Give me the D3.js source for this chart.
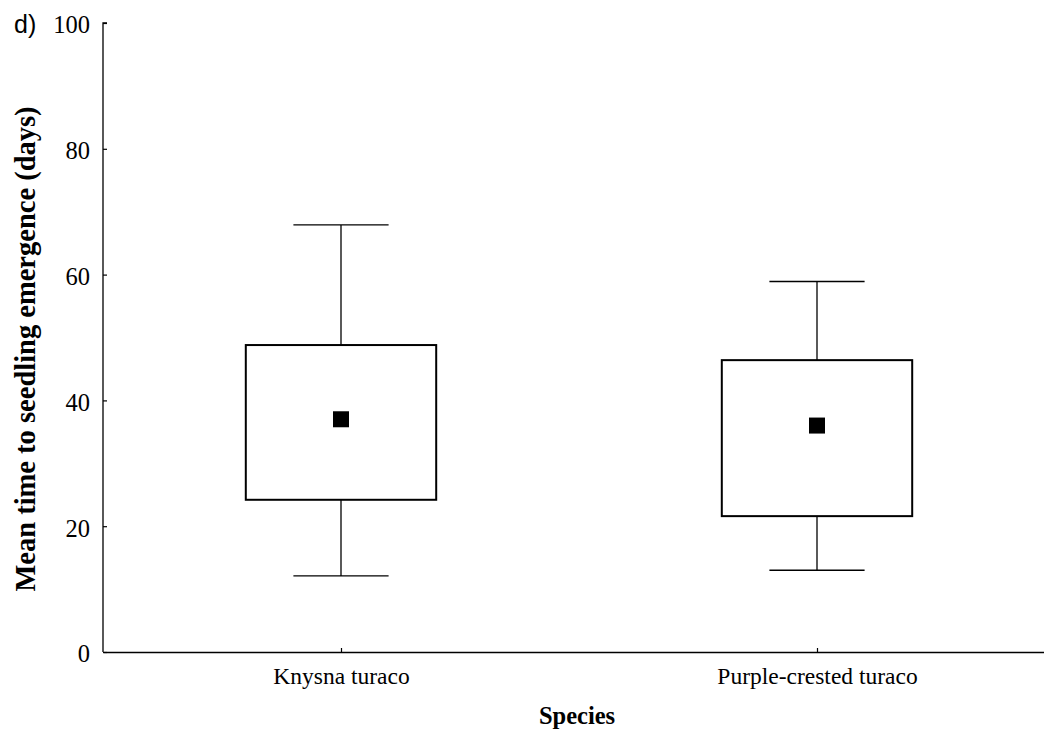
<!DOCTYPE html>
<html><head><meta charset="utf-8">
<script src="https://cdn.jsdelivr.net/npm/d3@7"></script>
<style>body{margin:0;background:#fff;overflow:hidden}svg{display:block}</style>
</head><body>
<svg id="c" width="1044" height="733"></svg>
<script>
const categories = ["Knysna turaco", "Purple-crested turaco"];
const whiskerHigh = [67.9, 58.9];
const boxHigh = [48.8, 46.4];
const means = [37.0, 36.0];
const boxLow = [24.2, 21.6];
const whiskerLow = [12.1, 13.0];
const yTicks = [0, 20, 40, 60, 80, 100];

const svg = d3.select("#c");
const x = d3.scalePoint().domain(categories).range([103, 1055]).padding(0.5);
const y = d3.scaleLinear().domain([0, 100]).range([652, 23]);
const step = x.step();
const boxW = step * 0.4;
const capW = step * 0.2;

const serif = "'Liberation Serif','Times New Roman',serif";

// y axis
const ya = svg.append("g").attr("transform", "translate(103,0)")
  .call(d3.axisRight(y).tickValues(yTicks).tickSize(4).tickFormat(d3.format("d")));
ya.select(".domain").attr("d", `M4,${y(100)}H0V${y(0)}`).attr("stroke", "#000").attr("stroke-width", 1.3);
ya.selectAll(".tick line").attr("stroke", "#000").attr("stroke-width", 1.2);
ya.selectAll(".tick text").attr("x", -13).attr("text-anchor", "end")
  .attr("font-family", serif).attr("font-size", 24.5).attr("fill", "#000").attr("dy", "0.4em");

// x axis
const xa = svg.append("g").attr("transform", "translate(0,652)")
  .call(d3.axisTop(x).tickSize(4).tickSizeOuter(0));
xa.select(".domain").attr("stroke", "#000").attr("stroke-width", 1.3);
xa.selectAll(".tick line").attr("stroke", "#000").attr("stroke-width", 1.2);
xa.selectAll(".tick text").attr("y", 32).attr("dy", 0)
  .attr("font-family", serif).attr("font-size", 23.5).attr("fill", "#000");

const data = categories.map((c, i) => ({c, wh: whiskerHigh[i], bh: boxHigh[i], m: means[i], bl: boxLow[i], wl: whiskerLow[i]}));
const g = svg.append("g").selectAll("g").data(data).join("g");

// whiskers
g.append("line").attr("x1", d => x(d.c)).attr("x2", d => x(d.c))
  .attr("y1", d => y(d.wh)).attr("y2", d => y(d.bh)).attr("stroke", "#000").attr("stroke-width", 1.3);
g.append("line").attr("x1", d => x(d.c)).attr("x2", d => x(d.c))
  .attr("y1", d => y(d.bl)).attr("y2", d => y(d.wl)).attr("stroke", "#000").attr("stroke-width", 1.3);
g.append("line").attr("x1", d => x(d.c) - capW / 2).attr("x2", d => x(d.c) + capW / 2)
  .attr("y1", d => y(d.wh)).attr("y2", d => y(d.wh)).attr("stroke", "#000").attr("stroke-width", 1.3);
g.append("line").attr("x1", d => x(d.c) - capW / 2).attr("x2", d => x(d.c) + capW / 2)
  .attr("y1", d => y(d.wl)).attr("y2", d => y(d.wl)).attr("stroke", "#000").attr("stroke-width", 1.3);
// box
g.append("rect").attr("x", d => x(d.c) - boxW / 2).attr("width", boxW)
  .attr("y", d => y(d.bh)).attr("height", d => y(d.bl) - y(d.bh))
  .attr("fill", "#fff").attr("stroke", "#000").attr("stroke-width", 2);
// mean
g.append("rect").attr("x", d => x(d.c) - 8).attr("y", d => y(d.m) - 8)
  .attr("width", 16).attr("height", 16).attr("fill", "#000");

// titles
svg.append("text").attr("x", 577).attr("y", 724).attr("text-anchor", "middle")
  .attr("font-family", serif).attr("font-weight", "bold").attr("font-size", 24.5).text("Species");
svg.append("text").attr("transform", "translate(35,349) rotate(-90)").attr("text-anchor", "middle")
  .attr("font-family", serif).attr("font-weight", "bold").attr("font-size", 28.5)
  .text("Mean time to seedling emergence (days)");
svg.append("text").attr("x", 14).attr("y", 33)
  .attr("font-family", "'Liberation Sans',Arial,sans-serif").attr("font-size", 25).text("d)");
</script>
</body></html>
